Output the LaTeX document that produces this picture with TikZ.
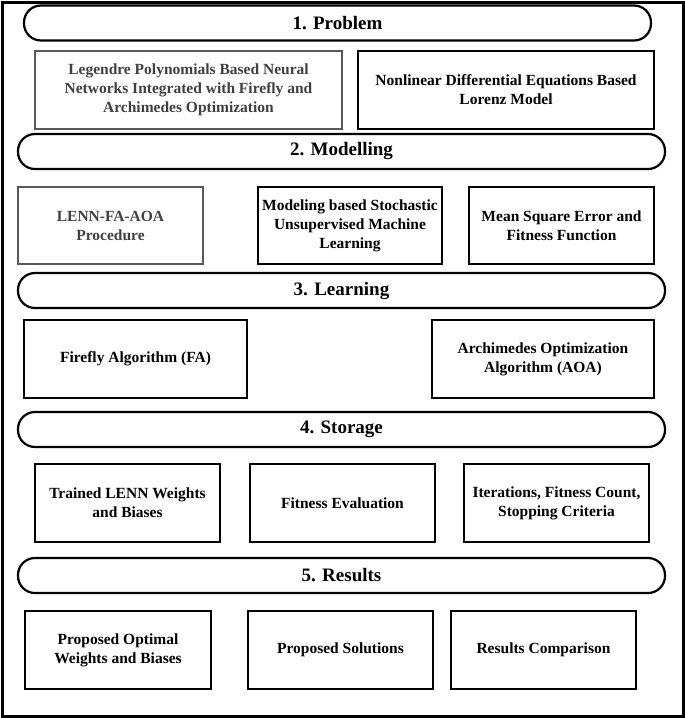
\documentclass[tikz,border=0pt]{standalone}
\usepackage{fontspec}
\setmainfont{Liberation Serif}
\usetikzlibrary{positioning}

\tikzset{
    stage/.style={draw, line width=2.2pt, rounded corners=17pt, minimum width=647pt, minimum height=35pt,
        inner sep=0pt, font=\fontsize{19}{22}\selectfont\bfseries},
    block/.style={draw, line width=2.4pt, align=center, inner sep=0pt, minimum height=78pt,
        font=\fontsize{15.5}{19}\selectfont\bfseries},
    greyblock/.style={block, draw=black!65, text=black!75}
}

\begin{document}
\begin{tikzpicture}[x=1pt, y=-1pt]
            \useasboundingbox (0,0) rectangle (685,718);
            \draw[line width=3pt] (2,2) rectangle (683,716);

            \node(problem)[stage, minimum width=627pt] at (337.5,23) {1. Problem};
            \node(lenn)[greyblock, minimum width=307pt] at (188.5,90)
                {Legendre Polynomials Based Neural\\Networks Integrated with Firefly and\\Archimedes Optimization};
            \node(lorenz)[block, minimum width=296pt] at (506,90)
                {Nonlinear Differential Equations Based\\Lorenz Model};

            \node(modelling)[stage] at (341.5,151.5) {2. Modelling};
            \node(procedure)[greyblock, minimum width=185pt, minimum height=77pt] at (110.5,225.5)
                {LENN-FA-AOA\\Procedure};
            \node(stochastic)[block, minimum width=184pt, minimum height=77pt] at (350,225.5)
                {Modeling based Stochastic\\Unsupervised Machine\\Learning};
            \node(mse)[block, minimum width=185pt, minimum height=77pt] at (561.5,225.5)
                {Mean Square Error and\\Fitness Function};

            \node(learning)[stage] at (341.5,290.5) {3. Learning};
            \node(fa)[block, minimum width=223pt] at (135.5,359) {Firefly Algorithm (FA)};
            \node(aoa)[block, minimum width=222pt] at (543,359)
                {Archimedes Optimization\\Algorithm (AOA)};

            \node(storage)[stage] at (341.5,429.5) {4. Storage};
            \node(weights)[block, minimum width=185pt] at (127.5,503)
                {Trained LENN Weights\\and Biases};
            \node(fitness)[block, minimum width=185pt] at (342.5,503) {Fitness Evaluation};
            \node(criteria)[block, minimum width=185pt] at (556.5,503)
                {Iterations, Fitness Count,\\Stopping Criteria};

            \node(results)[stage] at (341.5,575.5) {5. Results};
            \node(optimal)[block, minimum width=186pt] at (118,650)
                {Proposed Optimal\\Weights and Biases};
            \node(solutions)[block, minimum width=185pt] at (340.5,650) {Proposed Solutions};
            \node(comparison)[block, minimum width=185pt] at (543.5,650) {Results Comparison};
        \end{tikzpicture}
\end{document}
